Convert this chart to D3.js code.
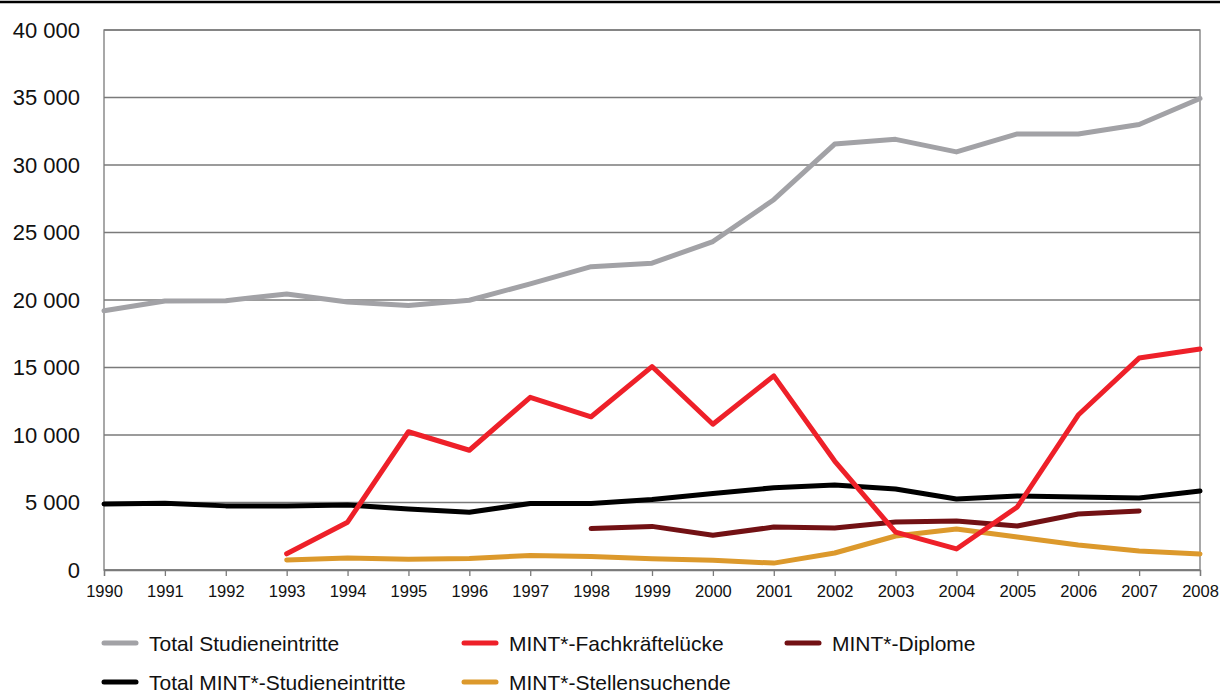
<!DOCTYPE html>
<html lang="de">
<head>
    <meta charset="UTF-8">
    <title>MINT Studieneintritte</title>
    <script src="https://cdn.jsdelivr.net/npm/d3@7"></script>
    <style>
        body { margin: 0; background: #fff; }
        svg { display: block; font-family: "Liberation Sans", Arial, sans-serif; }
    </style>
</head>
<body>
    <div id="chart"></div>
    <script>
        const years = d3.range(1990, 2009);
        const yTicks = [0, 5000, 10000, 15000, 20000, 25000, 30000, 35000, 40000];

        // values per year, null where the series has no data
        const totalStudien = [19200, 19930, 19950, 20450, 19850, 19600, 19980, 21200, 22470, 22730,
                              24330, 27430, 31550, 31900, 30970, 32300, 32300, 33000, 34930];
        const totalMint = [4890, 4940, 4750, 4740, 4810, 4520, 4280, 4930, 4930, 5220,
                           5670, 6090, 6300, 6000, 5260, 5480, 5400, 5330, 5850];
        const fachkraefte = [null, null, null, 1200, 3540, 10240, 8870, 12790, 11350, 15070,
                             10800, 14380, 8070, 2800, 1560, 4670, 11480, 15700, 16370];
        const diplome = [null, null, null, null, null, null, null, null, 3070, 3230,
                         2570, 3180, 3110, 3560, 3630, 3260, 4150, 4370, null];
        const stellensuchende = [null, null, null, 740, 890, 800, 860, 1080, 1000, 840,
                                 720, 510, 1260, 2520, 3040, 2440, 1850, 1410, 1190];

        const series = [
            { name: 'Total Studieneintritte', values: totalStudien, color: '#a2a2a6' },
            { name: 'Total MINT*-Studieneintritte', values: totalMint, color: '#000000' },
            { name: 'MINT*-Fachkräftelücke', values: fachkraefte, color: '#ee2029' },
            { name: 'MINT*-Stellensuchende', values: stellensuchende, color: '#dc992c' },
            { name: 'MINT*-Diplome', values: diplome, color: '#721114' }
        ];
        // drawing order (bottom first) as in the original
        const drawOrder = [0, 3, 4, 1, 2];

        const width = 1220, height = 700;
        const plot = { left: 104, right: 1200, top: 30, bottom: 570 };

        const svg = d3.select('#chart').append('svg')
            .attr('width', width)
            .attr('height', height);

        // top rule
        svg.append('line')
            .attr('x1', 0).attr('x2', width)
            .attr('y1', 2).attr('y2', 2)
            .attr('stroke', '#000').attr('stroke-width', 2.5);

        const x = d3.scaleLinear().domain([1990, 2008]).range([plot.left, plot.right]);
        const y = d3.scaleLinear().domain([0, 40000]).range([plot.bottom, plot.top]);

        const fmt = v => d3.format(',')(v).replace(/,/g, ' ');

        // gridlines
        svg.append('g')
            .selectAll('line')
            .data(yTicks)
            .enter().append('line')
            .attr('x1', plot.left).attr('x2', plot.right)
            .attr('y1', d => y(d)).attr('y2', d => y(d))
            .attr('stroke', '#7a7a7a').attr('stroke-width', 1.3);

        // frame
        svg.append('rect')
            .attr('x', plot.left).attr('y', plot.top)
            .attr('width', plot.right - plot.left)
            .attr('height', plot.bottom - plot.top)
            .attr('fill', 'none')
            .attr('stroke', '#7a7a7a').attr('stroke-width', 1.3);

        // y axis labels
        const yAxis = svg.append('g')
            .attr('transform', `translate(${plot.left},0)`)
            .call(d3.axisLeft(y).tickValues(yTicks).tickSize(0).tickPadding(24).tickFormat(fmt));
        yAxis.select('.domain').remove();
        yAxis.selectAll('text')
            .attr('font-size', 22)
            .attr('fill', '#111')
            .style('font-family', '"Liberation Sans", Arial, sans-serif');

        // x axis
        const xAxis = svg.append('g')
            .attr('transform', `translate(0,${plot.bottom})`)
            .call(d3.axisBottom(x).tickValues(years).tickSize(6).tickPadding(9).tickFormat(d3.format('d')));
        xAxis.select('.domain').attr('stroke', '#7a7a7a').attr('stroke-width', 1.3);
        xAxis.selectAll('.tick line').attr('stroke', '#7a7a7a').attr('stroke-width', 1.3);
        xAxis.selectAll('text')
            .attr('font-size', 16.5)
            .attr('fill', '#111')
            .style('font-family', '"Liberation Sans", Arial, sans-serif');

        // lines
        const line = d3.line()
            .defined(d => d.v !== null)
            .x(d => x(d.year))
            .y(d => y(d.v));

        drawOrder.forEach(i => {
            const s = series[i];
            const pts = years.map((yr, k) => ({ year: yr, v: s.values[k] }));
            svg.append('path')
                .datum(pts)
                .attr('d', line)
                .attr('fill', 'none')
                .attr('stroke', s.color)
                .attr('stroke-width', 5)
                .attr('stroke-linejoin', 'round')
                .attr('stroke-linecap', 'round');
        });

        // legend
        const legendItems = [
            { s: series[0], lx: 104, ly: 643 },
            { s: series[2], lx: 464, ly: 643 },
            { s: series[4], lx: 787, ly: 643 },
            { s: series[1], lx: 104, ly: 682 },
            { s: series[3], lx: 464, ly: 682 }
        ];
        const legend = svg.append('g')
            .selectAll('g')
            .data(legendItems)
            .enter().append('g')
            .attr('transform', d => `translate(${d.lx},${d.ly})`);
        legend.append('line')
            .attr('x1', 0).attr('x2', 32)
            .attr('y1', 0).attr('y2', 0)
            .attr('stroke', d => d.s.color)
            .attr('stroke-width', 5)
            .attr('stroke-linecap', 'round');
        legend.append('text')
            .attr('x', 45).attr('y', 7.5)
            .attr('font-size', 21)
            .attr('fill', '#111')
            .text(d => d.s.name);
    </script>
</body>
</html>
